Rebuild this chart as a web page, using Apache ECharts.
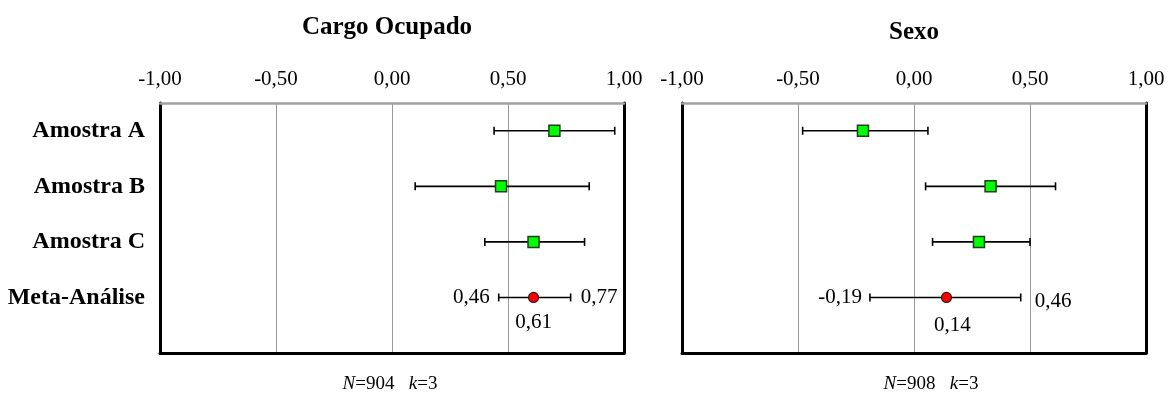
<!DOCTYPE html>
<html>
<head>
<meta charset="utf-8">
<script src="https://cdn.jsdelivr.net/npm/echarts@6/dist/echarts.min.js"></script>
<style>
html,body{margin:0;padding:0;background:#fff;}
#chart{width:1168px;height:396px;}
</style>
</head>
<body>
<div id="chart"></div>
<script>
// ---- data ----
var categories = ['Amostra A', 'Amostra B', 'Amostra C', 'Meta-Análise'];
var panelTitles = ['Cargo Ocupado', 'Sexo'];
var panelNotes = [['904', '3'], ['908', '3']];
var xTicks = [-1, -0.5, 0, 0.5, 1];

var cargoEst  = [0.70, 0.47, 0.61, 0.61];
var cargoLow  = [0.44, 0.10, 0.40, 0.46];
var cargoHigh = [0.96, 0.85, 0.83, 0.77];

var sexoEst  = [-0.22, 0.33, 0.28, 0.14];
var sexoLow  = [-0.48, 0.05, 0.08, -0.19];
var sexoHigh = [0.06, 0.61, 0.50, 0.46];

var FONT = 'Liberation Serif';
function fmt(v){ return v.toFixed(2).replace('.', ','); }

var panels = [
  {est: cargoEst, low: cargoLow, high: cargoHigh, left: 160, titleDx: -5, titleY: 28, noteDx: -2,
   lab: {lowDx: -9, lowDy: 0, highDx: 10, highDy: 0, estDx: 0, estDy: 25}},
  {est: sexoEst, low: sexoLow, high: sexoHigh, left: 682, titleDx: 0, titleY: 33, noteDx: 17,
   lab: {lowDx: -8, lowDy: 0, highDx: 14, highDy: 4, estDx: 6, estDy: 28}}
];
var W = 464, TOP = 103, H = 250;

var grids = [], xAxes = [], yAxes = [], series = [], graphics = [];

panels.forEach(function(p, i){
  grids.push({left: p.left, top: TOP, width: W, height: H, containLabel: false});
  xAxes.push({
    type: 'value', gridIndex: i, position: 'top', min: xTicks[0], max: xTicks[xTicks.length-1], interval: 0.5,
    axisLine: {show: true, lineStyle: {color: '#a0a0a0', width: 2.5}},
    axisTick: {show: false},
    axisLabel: {formatter: fmt, fontFamily: FONT, fontSize: 21, color: '#000', margin: 13},
    splitLine: {show: true, lineStyle: {color: '#999', width: 1}}
  });
  xAxes.push({
    type: 'value', gridIndex: i, position: 'bottom', min: -1, max: 1,
    axisLine: {show: true, onZero: false, lineStyle: {color: '#000', width: 3}},
    axisTick: {show: false}, axisLabel: {show: false}, splitLine: {show: false}
  });
  yAxes.push({
    type: 'value', gridIndex: i, inverse: true, min: 0.5, max: 5, interval: 0.5, position: 'left',
    axisLine: {show: true, onZero: false, lineStyle: {color: '#000', width: 3}},
    axisTick: {show: false}, splitLine: {show: false},
    axisLabel: {
      show: i === 0, margin: 15, fontFamily: FONT, fontWeight: 'bold', fontSize: 24, color: '#000',
      formatter: function(v){ return (Math.abs(v - Math.round(v)) < 1e-6 && v >= 1 && v <= 4) ? categories[v-1] : ''; }
    }
  });
  yAxes.push({
    type: 'value', gridIndex: i, inverse: true, min: 0.5, max: 5, position: 'right',
    axisLine: {show: true, onZero: false, lineStyle: {color: '#000', width: 3}},
    axisTick: {show: false}, axisLabel: {show: false}, splitLine: {show: false}
  });

  var xi = i * 2, yi = i * 2;
  var ciData = categories.map(function(c, k){ return [p.low[k], p.high[k], k + 1]; });
  series.push({
    type: 'custom', xAxisIndex: xi, yAxisIndex: yi, z: 3,
    data: ciData,
    renderItem: function(params, api){
      var a = api.coord([api.value(0), api.value(2)]);
      var b = api.coord([api.value(1), api.value(2)]);
      var cap = 4;
      var st = {stroke: '#000', lineWidth: 1.6};
      return {type: 'group', children: [
        {type: 'line', shape: {x1: a[0], y1: a[1], x2: b[0], y2: b[1]}, style: st},
        {type: 'line', shape: {x1: a[0], y1: a[1]-cap, x2: a[0], y2: a[1]+cap}, style: st},
        {type: 'line', shape: {x1: b[0], y1: b[1]-cap, x2: b[0], y2: b[1]+cap}, style: st}
      ]};
    }
  });
  series.push({
    type: 'scatter', xAxisIndex: xi, yAxisIndex: yi, z: 5,
    symbol: 'rect', symbolSize: 11,
    itemStyle: {color: '#00ff00', borderColor: '#1f3f1f', borderWidth: 1.5, opacity: 1},
    data: [0,1,2].map(function(k){ return [p.est[k], k + 1]; })
  });
  series.push({
    type: 'scatter', xAxisIndex: xi, yAxisIndex: yi, z: 5,
    symbol: 'circle', symbolSize: 10,
    itemStyle: {color: '#ff0000', borderColor: '#3a1a1a', borderWidth: 1.2, opacity: 1},
    data: [[p.est[3], 4]]
  });
  var L = p.lab;
  series.push({
    type: 'custom', xAxisIndex: xi, yAxisIndex: yi, z: 6,
    data: [[p.low[3], p.est[3], p.high[3], 4]],
    renderItem: function(params, api){
      var lo = api.coord([api.value(0), api.value(3)]);
      var es = api.coord([api.value(1), api.value(3)]);
      var hi = api.coord([api.value(2), api.value(3)]);
      var ts = function(txt, x, y, align){
        return {type: 'text', style: {text: txt, x: x, y: y, align: align, verticalAlign: 'middle',
          font: '21px "' + FONT + '"', fill: '#000'}};
      };
      return {type: 'group', children: [
        ts(fmt(api.value(0)), lo[0] + L.lowDx, lo[1] + L.lowDy, 'right'),
        ts(fmt(api.value(2)), hi[0] + L.highDx, hi[1] + L.highDy, 'left'),
        ts(fmt(api.value(1)), es[0] + L.estDx, es[1] + L.estDy, 'center')
      ]};
    }
  });

  graphics.push({
    type: 'text',
    x: p.left + W / 2 + p.titleDx, y: p.titleY,
    style: {text: panelTitles[i], align: 'center', verticalAlign: 'middle',
      font: 'bold 25px "' + FONT + '"', fill: '#000'}
  });
  graphics.push({
    type: 'text',
    x: p.left + W / 2 + p.noteDx, y: 384,
    style: {
      text: '{i|N}=' + panelNotes[i][0] + '   {i|k}=' + panelNotes[i][1],
      align: 'center', verticalAlign: 'middle',
      font: '19px "' + FONT + '"', fill: '#000',
      rich: {i: {fontStyle: 'italic', fontFamily: FONT, fontSize: 19, fill: '#000'}}
    }
  });
});

var chart = echarts.init(document.getElementById('chart'), null, {renderer: 'canvas'});
chart.setOption({
  animation: false,
  backgroundColor: '#fff',
  grid: grids, xAxis: xAxes, yAxis: yAxes, series: series, graphic: graphics
});
</script>
</body>
</html>
